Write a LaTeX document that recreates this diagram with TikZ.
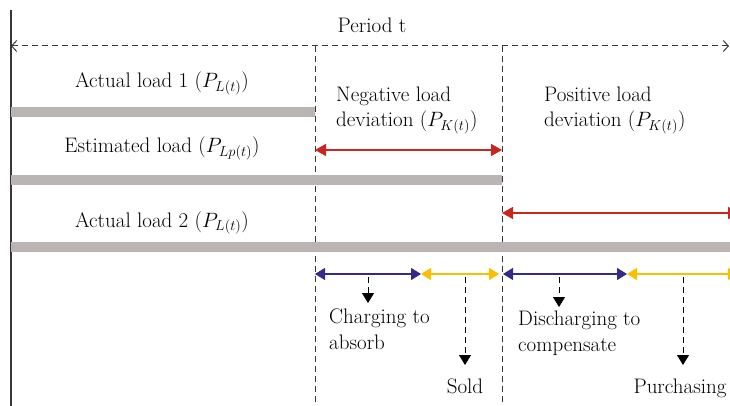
\documentclass[tikz,border=0pt]{standalone}
\usepackage{amsmath}
\usetikzlibrary{arrows.meta, positioning}

\definecolor{barGray}{RGB}{186,181,179}
\definecolor{devRed}{RGB}{200,38,32}
\definecolor{chgBlue}{RGB}{52,42,138}
\definecolor{sellYellow}{RGB}{250,192,0}
\definecolor{lineGray}{RGB}{55,55,55}

\begin{document}
\begin{tikzpicture}[x=1pt, y=-1pt, font=\fontsize{21}{25.5}\selectfont,
    every node/.style={inner sep=0pt},
    loadbar/.style={draw=barGray, line width=10pt},
    divider/.style={lineGray, line width=1pt, dash pattern=on 6pt off 4pt},
    devarrow/.style={devRed, line width=1.4pt, {Triangle[length=11pt,width=12pt]}-{Triangle[length=11pt,width=12pt]}},
    chgarrow/.style={chgBlue, line width=1.4pt, {Triangle[length=10pt,width=12pt]}-{Triangle[length=10pt,width=12pt]}},
    sellarrow/.style={sellYellow, line width=1.4pt, {Triangle[length=10pt,width=12pt]}-{Triangle[length=10pt,width=12pt]}},
    droparrow/.style={black, line width=1pt, dash pattern=on 6pt off 4pt, -{Triangle[length=10pt,width=12pt]}}]
    \clip (0,0) rectangle (730,406);

    % time axis
    \coordinate (top0) at (11,10);
    \coordinate (bot0) at (11,406);
    \coordinate (tl) at (11,46);
    \coordinate (tr) at (729,46);
    \coordinate (negtop) at (315,46);
    \coordinate (negbot) at (315,406);
    \coordinate (postop) at (502,46);
    \coordinate (posbot) at (502,406);
    \draw[lineGray, line width=1.2pt] (top0) -- (bot0);
    \draw[lineGray, line width=1pt, dash pattern=on 6pt off 4pt, {Straight Barb[length=5pt,width=11pt]}-{Straight Barb[length=5pt,width=11pt]}] (tl) -- (tr);
    \draw[divider] (negtop) -- (negbot);
    \draw[divider] (postop) -- (posbot);
    \node[anchor=base] (period) at (372,33) {Period t};

    % load bars
    \draw[loadbar] (11,112) -- (315,112);
    \draw[loadbar] (11,180) -- (502,180);
    \draw[loadbar] (11,247) -- (738,247);
    \node[anchor=base] (act1) at (162,88) {Actual load 1 ($P_{L(t)}$)};
    \node[anchor=base] (est) at (162,153) {Estimated load ($P_{Lp(t)}$)};
    \node[anchor=base] (act2) at (162,227) {Actual load 2 ($P_{L(t)}$)};

    % deviations
    \node[anchor=base west, align=left] (negdev) at (336,127) {Negative load\\deviation ($P_{K(t)}$)};
    \node[anchor=base west, align=left] (posdev) at (544,127) {Positive load\\deviation ($P_{K(t)}$)};
    \coordinate (n1) at (315,150);
    \coordinate (n2) at (502,150);
    \coordinate (p1) at (502,213);
    \coordinate (p2) at (739,213);
    \draw[devarrow] (n1) -- (n2);
    \draw[devarrow] (p1) -- (p2);

    % storage and trading
    \coordinate (c1) at (315,274);
    \coordinate (c2) at (421,274);
    \coordinate (s2) at (499,274);
    \coordinate (d1) at (503,274);
    \coordinate (d2) at (627,274);
    \coordinate (b2) at (738,274);
    \draw[chgarrow] (c1) -- (c2);
    \draw[sellarrow] (c2) -- (s2);
    \draw[chgarrow] (d1) -- (d2);
    \draw[sellarrow] (d2) -- (b2);

    \node[anchor=base west, align=left] (charge) at (329,349) {Charging to\\absorb};
    \node[anchor=base] (sold) at (465,393) {Sold};
    \node[anchor=base west, align=left] (discharge) at (518,351) {Discharging to\\compensate};
    \node[anchor=base] (purchase) at (680,393) {Purchasing};
    \draw[droparrow] (368,277) -- (368,303);
    \draw[droparrow] (465,277) -- (465,365);
    \draw[droparrow] (559,277) -- (559,307);
    \draw[droparrow] (683,277) -- (683,365);
\end{tikzpicture}
\end{document}
